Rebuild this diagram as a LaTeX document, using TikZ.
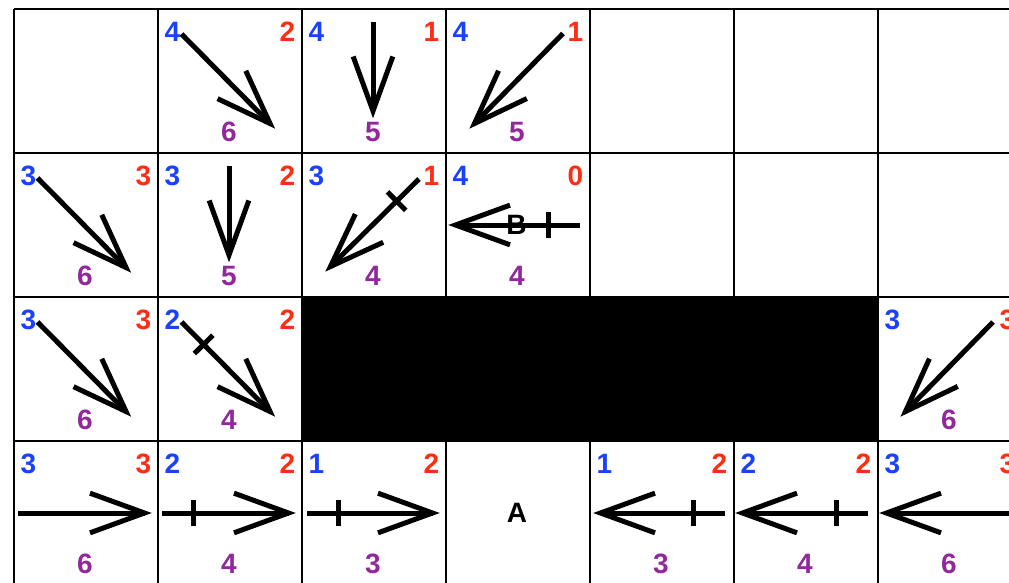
\documentclass[tikz,border=0pt]{standalone}
\usepackage{fontspec}
\setmainfont{Liberation Sans}
\usetikzlibrary{calc}
\definecolor{numblue}{RGB}{25,65,255}
\definecolor{numred}{RGB}{255,45,20}
\definecolor{numpurple}{RGB}{145,40,155}
\tikzset{
  num/.style={font=\fontsize{28}{30}\selectfont\bfseries, inner sep=0pt},
  gridl/.style={line width=2pt, black},
  shaft/.style={line width=5pt, black, line cap=butt, line join=miter},
}
\newcommand{\nums}[4]{%
  \node[num, numblue] (#1b) at (14.5,23) {#2};
  \node[num, numred] (#1r) at (129.5,23) {#3};
  \node[num, numpurple] (#1p) at (71,123) {#4};}
\newcommand{\arrowto}[2]{%
  \draw[shaft] (#1) -- (#2);
  \draw[shaft] ($(#2)!58pt!20:(#1)$) -- (#2) -- ($(#2)!58pt!-20:(#1)$);}
\newcommand{\tickon}[3]{%
  \coordinate (#3) at ($(#1)!31.5pt!(#2)$);
  \draw[shaft] ($(#3)!13pt!90:(#2)$) -- ($(#3)!13pt!-90:(#2)$);}
\begin{document}
\begin{tikzpicture}[x=1pt,y=-1pt]
\useasboundingbox (0,0) rectangle (1009,583);
\fill[white] (0,0) rectangle (1009,583);
\clip (0,0) rectangle (1009,583);
% grid
\foreach \y in {9,153,297,441} \draw[gridl] (14,\y) -- (1015,\y);
\foreach \x in {14,158,302,446,590,734,878} \draw[gridl] (\x,9) -- (\x,590);
% obstacle
\fill[black] (302,297) rectangle (878,441);
% row 0
\begin{scope}[shift={(158,9)}]
  \nums{c01}{4}{2}{6}
  \coordinate (c01s) at (23.5,25); \coordinate (c01t) at (112,114.5);
\end{scope}
\begin{scope}[shift={(302,9)}]
  \nums{c02}{4}{1}{5}
  \coordinate (c02s) at (71,13); \coordinate (c02t) at (71,102);
\end{scope}
\begin{scope}[shift={(446,9)}]
  \nums{c03}{4}{1}{5}
  \coordinate (c03s) at (117,24.5); \coordinate (c03t) at (28.5,114.5);
\end{scope}
% row 1
\begin{scope}[shift={(14,153)}]
  \nums{c10}{3}{3}{6}
  \coordinate (c10s) at (23.5,25); \coordinate (c10t) at (112,114.5);
\end{scope}
\begin{scope}[shift={(158,153)}]
  \nums{c11}{3}{2}{5}
  \coordinate (c11s) at (71,13); \coordinate (c11t) at (71,102);
\end{scope}
\begin{scope}[shift={(302,153)}]
  \nums{c12}{3}{1}{4}
  \coordinate (c12s) at (117,26); \coordinate (c12t) at (28.5,113.5);
\end{scope}
\begin{scope}[shift={(446,153)}]
  \nums{c13}{4}{0}{4}
  \coordinate (c13s) at (134,72); \coordinate (c13t) at (9.5,72);
\end{scope}
% row 2
\begin{scope}[shift={(14,297)}]
  \nums{c20}{3}{3}{6}
  \coordinate (c20s) at (23.5,25); \coordinate (c20t) at (112,114.5);
\end{scope}
\begin{scope}[shift={(158,297)}]
  \nums{c21}{2}{2}{4}
  \coordinate (c21s) at (23.5,25); \coordinate (c21t) at (112,114.5);
\end{scope}
\begin{scope}[shift={(878,297)}]
  \nums{c26}{3}{3}{6}
  \coordinate (c26s) at (115,25); \coordinate (c26t) at (27.5,114.5);
\end{scope}
% row 3
\begin{scope}[shift={(14,441)}]
  \nums{c30}{3}{3}{6}
  \coordinate (c30s) at (4,72); \coordinate (c30t) at (130.5,72);
\end{scope}
\begin{scope}[shift={(158,441)}]
  \nums{c31}{2}{2}{4}
  \coordinate (c31s) at (4,72); \coordinate (c31t) at (130.5,72);
\end{scope}
\begin{scope}[shift={(302,441)}]
  \nums{c32}{1}{2}{3}
  \coordinate (c32s) at (5,72); \coordinate (c32t) at (130.5,72);
\end{scope}
\begin{scope}[shift={(590,441)}]
  \nums{c34}{1}{2}{3}
  \coordinate (c34s) at (135,72); \coordinate (c34t) at (10.5,72);
\end{scope}
\begin{scope}[shift={(734,441)}]
  \nums{c35}{2}{2}{4}
  \coordinate (c35s) at (134,72); \coordinate (c35t) at (8.5,72);
\end{scope}
\begin{scope}[shift={(878,441)}]
  \nums{c36}{3}{3}{6}
  \coordinate (c36s) at (134,72); \coordinate (c36t) at (8.5,72);
\end{scope}
% arrows
\arrowto{c01s}{c01t}
\arrowto{c02s}{c02t}
\arrowto{c03s}{c03t}
\arrowto{c10s}{c10t}
\arrowto{c11s}{c11t}
\arrowto{c12s}{c12t} \tickon{c12s}{c12t}{c12m}
\arrowto{c13s}{c13t} \tickon{c13s}{c13t}{c13m}
\arrowto{c20s}{c20t}
\arrowto{c21s}{c21t} \tickon{c21s}{c21t}{c21m}
\arrowto{c26s}{c26t}
\arrowto{c30s}{c30t}
\arrowto{c31s}{c31t} \tickon{c31s}{c31t}{c31m}
\arrowto{c32s}{c32t} \tickon{c32s}{c32t}{c32m}
\arrowto{c34s}{c34t} \tickon{c34s}{c34t}{c34m}
\arrowto{c35s}{c35t} \tickon{c35s}{c35t}{c35m}
\arrowto{c36s}{c36t}
% labels
\node[num, black] (B) at (516.5,225) {B};
\node[num, black] (A) at (517,513) {A};
\end{tikzpicture}
\end{document}
